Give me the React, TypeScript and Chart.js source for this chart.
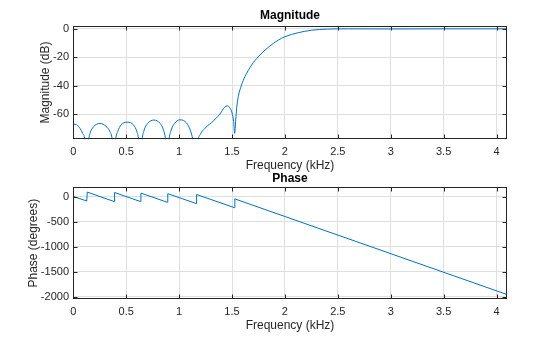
import React, { useEffect, useRef } from 'react';
import { Chart, registerables } from 'chart.js';
Chart.register(...registerables);

// ---- data ----
const freqTicks = [0, 0.5, 1, 1.5, 2, 2.5, 3, 3.5, 4];
const magTicks = [-60, -40, -20, 0];
const phaseTicks = [-2000, -1500, -1000, -500, 0];

const magFreq = [0, 0.032, 0.063, 0.088, 0.11, 0.127, 0.145, 0.16, 0.19, 0.253, 0.31, 0.345, 0.368, 0.385,
  0.4, 0.42, 0.45, 0.51, 0.57, 0.6, 0.618, 0.634, 0.65, 0.67, 0.7, 0.762, 0.82, 0.85, 0.872, 0.888,
  0.905, 0.925, 0.955, 1.01, 1.07, 1.105, 1.13, 1.16, 1.18, 1.2, 1.244, 1.323, 1.386, 1.43, 1.455, 1.48,
  1.5, 1.515, 1.525, 1.535, 1.545, 1.559, 1.59, 1.622, 1.685, 1.748, 1.842, 1.937, 2.0, 2.126, 2.25, 2.4,
  2.6, 3.0, 3.5, 4.096];
const magDb = [-66.8, -67.3, -69.8, -73.3, -78, -95, -78, -73, -68.8, -66.4, -68.5, -72, -78, -95,
  -78, -72, -67.5, -65.5, -67.5, -72, -78, -95, -78, -71, -66.5, -64.0, -66.3, -70.5, -78, -95,
  -78, -71, -66.5, -63.8, -66, -71, -78, -95, -78, -74, -69.8, -64.7, -59.8, -55, -54, -55.5,
  -59, -65, -73.3, -64, -55, -47.6, -39.4, -33.6, -25.4, -19.6, -13.0, -7.9, -5.5, -2.7, -1.0, -0.2,
  0, -0.1, 0, 0];

const phaseFreq = [0, 0.127, 0.132, 0.385, 0.39, 0.634, 0.639, 0.888, 0.893, 1.16, 1.165, 1.521, 1.527, 4.096];
const phaseDeg = [0, -90, 88, -100, 80, -100, 68, -115, 57, -140, 40, -222, -48, -1956];

const FONT = "'Liberation Sans', Arial, Helvetica, sans-serif";
const TEXT = '#262626';
const LINE = '#0072BD';
const GRID = '#dfdfdf';

const boxPlugin = {
  id: 'matlabBox',
  afterDraw(chart: any) {
    const { ctx, chartArea: a, scales } = chart;
    const L = Math.round(a.left) + 0.5;
    const R = Math.round(a.right) - 0.5;
    const T = Math.round(a.top) + 0.5;
    const B = Math.round(a.bottom) - 0.5;
    ctx.save();
    ctx.strokeStyle = TEXT;
    ctx.lineWidth = 1;
    ctx.strokeRect(L, T, R - L, B - T);
    const tl = 4;
    ctx.beginPath();
    for (const t of scales.x.ticks) {
      const p = Math.round(scales.x.getPixelForValue(t.value)) + 0.5;
      ctx.moveTo(p, B); ctx.lineTo(p, B - tl);
      ctx.moveTo(p, T); ctx.lineTo(p, T + tl);
    }
    for (const t of scales.y.ticks) {
      const p = Math.round(scales.y.getPixelForValue(t.value)) + 0.5;
      ctx.moveTo(L, p); ctx.lineTo(L + tl, p);
      ctx.moveTo(R, p); ctx.lineTo(R - tl, p);
    }
    ctx.stroke();
    ctx.restore();
  },
};

function makeConfig(opts: any) {
  const { xs, ys, yMin, yMax, yTicks, title, yTitle, monotone,
    xAxisH, xTickPad, xTitlePadB, yTitlePadT, titlePadT, titlePadB } = opts;
  const pts = xs.map((x: number, i: number) => ({ x, y: ys[i] }));
  return {
    type: 'line',
    data: {
      datasets: [{
        data: pts,
        borderColor: LINE,
        borderWidth: 1,
        pointRadius: 0,
        fill: false,
        tension: monotone ? 0.4 : 0,
        cubicInterpolationMode: monotone ? 'monotone' : 'default',
      }],
    },
    options: {
      responsive: false,
      animation: false,
      events: [],
      layout: { padding: { left: 0, right: 53.3, top: 0, bottom: 0 } },
      plugins: {
        legend: { display: false },
        tooltip: { enabled: false },
        title: {
          display: true,
          text: title,
          fullSize: false,
          color: '#000',
          font: { family: FONT, size: 12, weight: 'bold' },
          padding: { top: titlePadT, bottom: titlePadB },
        },
      },
      scales: {
        x: {
          type: 'linear',
          min: 0,
          max: 4.096,
          afterBuildTicks: (s: any) => { s.ticks = freqTicks.map((v) => ({ value: v })); },
          afterFit: (s: any) => { s.height = xAxisH; },
          grid: { color: GRID, drawTicks: false, lineWidth: 1 },
          border: { display: false },
          ticks: {
            padding: xTickPad,
            color: TEXT,
            maxRotation: 0,
            font: { family: FONT, size: 11 },
            callback: (v: any) => String(v),
          },
          title: {
            display: true,
            text: 'Frequency (kHz)',
            color: TEXT,
            font: { family: FONT, size: 12 },
            padding: { top: 0, bottom: xTitlePadB },
          },
        },
        y: {
          type: 'linear',
          min: yMin,
          max: yMax,
          afterBuildTicks: (s: any) => { s.ticks = yTicks.map((v: number) => ({ value: v })); },
          afterFit: (s: any) => { s.width = 73.3; },
          grid: { color: GRID, drawTicks: false, lineWidth: 1 },
          border: { display: false },
          ticks: {
            padding: 4.3,
            color: TEXT,
            font: { family: FONT, size: 11 },
            callback: (v: any) => String(v),
          },
          title: {
            display: true,
            text: yTitle,
            color: TEXT,
            font: { family: FONT, size: 12 },
            padding: { top: yTitlePadT, bottom: 0 },
          },
        },
      },
    },
    plugins: [boxPlugin],
  };
}

export default function App() {
  const topRef = useRef<HTMLCanvasElement>(null);
  const botRef = useRef<HTMLCanvasElement>(null);

  useEffect(() => {
    const c1 = new Chart(topRef.current as any, makeConfig({
      xs: magFreq, ys: magDb, yMin: -77.5, yMax: 2.2, yTicks: magTicks,
      title: 'Magnitude', yTitle: 'Magnitude (dB)', monotone: true,
      xAxisH: 40.7, xTickPad: 5.9, xTitlePadB: 6.8, yTitlePadT: 38.3,
      titlePadT: 8.8, titlePadB: 2.5,
    }) as any);
    const c2 = new Chart(botRef.current as any, makeConfig({
      xs: phaseFreq, ys: phaseDeg, yMin: -2048, yMax: 184, yTicks: phaseTicks,
      title: 'Phase', yTitle: 'Phase (degrees)', monotone: false,
      xAxisH: 38, xTickPad: 5.9, xTitlePadB: 4.6, yTitlePadT: 26.5,
      titlePadT: 11.8, titlePadB: 1.1,
    }) as any);
    return () => { c1.destroy(); c2.destroy(); };
  }, []);

  return (
    <div style={{ position: 'fixed', left: 0, top: 0, width: 560, height: 337, background: '#fff' }}>
      <canvas ref={topRef} width={560} height={180} style={{ position: 'absolute', left: 0, top: 0 }} />
      <canvas ref={botRef} width={560} height={177} style={{ position: 'absolute', left: 0, top: 160 }} />
    </div>
  );
}
